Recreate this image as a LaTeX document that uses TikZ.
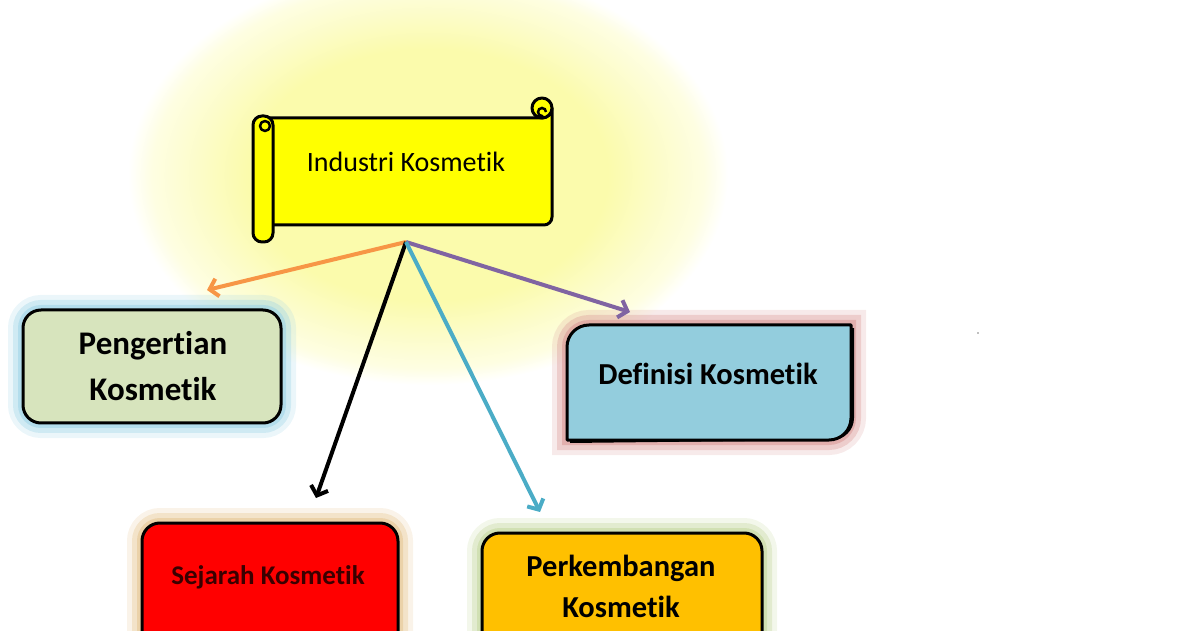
\documentclass[tikz,border=0pt]{standalone}
\usepackage{fontspec}
\setmainfont{Carlito}[Ligatures=NoCommon]
\usetikzlibrary{arrows.meta}
\definecolor{gy}{HTML}{FBFBAC}
\definecolor{gy2}{HTML}{FCFCC8}
\definecolor{gy3}{HTML}{FEFEE2}
\definecolor{scrollY}{HTML}{FFFF00}
\definecolor{pengF}{HTML}{D7E4BD}
\definecolor{pengG}{HTML}{9BD3E6}
\definecolor{defF}{HTML}{93CDDD}
\definecolor{defG}{HTML}{D99694}
\definecolor{sejF}{HTML}{FF0000}
\definecolor{sejG}{HTML}{E5C48F}
\definecolor{sejT}{HTML}{3A0000}
\definecolor{perkF}{HTML}{FFC000}
\definecolor{perkG}{HTML}{C3D69B}
\definecolor{arOr}{HTML}{F79646}
\definecolor{arPu}{HTML}{8064A2}
\definecolor{arTe}{HTML}{4BACC6}
\pgfdeclareradialshading{yglow}{\pgfpoint{0bp}{0bp}}{color(0bp)=(gy); color(15bp)=(gy); color(19bp)=(gy2); color(23bp)=(gy3); color(25bp)=(white); color(50bp)=(white)}
\begin{document}
\begin{tikzpicture}[x=1pt,y=1pt,
  halo/.style={preaction={draw=#1,line width=30pt,draw opacity=0.2},
               preaction={draw=#1,line width=20pt,draw opacity=0.35},
               preaction={draw=#1,line width=10pt,draw opacity=0.55}},
  boxst/.style={draw=black,line width=3pt,rounded corners=18pt,inner sep=0pt},
  scrollst/.style={fill=scrollY,draw=black,line width=3pt,line join=round},
  arr/.style={line width=4pt,-{Straight Barb[length=8pt,width=18pt]}},
  bigtxt/.style={font=\bfseries\fontsize{33}{46}\selectfont,align=center},
  midtxt/.style={font=\bfseries\fontsize{30.5}{41}\selectfont,align=center}]
\useasboundingbox (0,0) rectangle (1200,630);
\clip (0,0) rectangle (1200,630);
% big yellow glow
\shade[shading=yglow] (428,455) ellipse[x radius=300, y radius=210];
% Pengertian
\node[boxst,halo=pengG,fill=pengF,minimum width=258pt,minimum height=113pt] (pengbox) at (152,263.5) {};
\node[bigtxt] (peng) at (153,264) {Pengertian\\Kosmetik};
% Definisi
\path[halo=defG] (567,190) -- (567,283) arc[start angle=180,end angle=90,radius=22] -- (851,305) -- (851,212) arc[start angle=0,end angle=-90,radius=22] -- cycle;
\fill[black] (570,187) -- (570,283) -- (854,302) -- (854,212) arc[start angle=0,end angle=-90,radius=22] -- cycle;
\path[fill=defF,draw=black,line width=3pt,line join=round] (567,190) -- (567,283) arc[start angle=180,end angle=90,radius=22] -- (851,305) -- (851,212) arc[start angle=0,end angle=-90,radius=22] -- cycle;
\node[midtxt] (def) at (708,256) {Definisi Kosmetik};
% Sejarah
\node[boxst,halo=sejG,fill=sejF,minimum width=256pt,minimum height=147pt] (sejbox) at (270,33.5) {};
\node[font=\bfseries\fontsize{27}{30}\selectfont,text=sejT] (sej) at (268,53) {Sejarah Kosmetik};
% Perkembangan
\node[boxst,halo=perkG,fill=perkF,minimum width=280pt,minimum height=137pt] (perkbox) at (622,28.5) {};
\node[midtxt] (perk) at (621,44) {Perkembangan\\Kosmetik};
% scroll
\filldraw[scrollst] (268,512) -- (542,512) arc[start angle=-90,end angle=0,radius=10] -- (552,413) arc[start angle=0,end angle=-90,radius=8] -- (268,405) -- cycle;
\filldraw[scrollst] (542,522) circle[radius=10];
\draw[line width=2.5pt] (546,518) arc[start angle=0,end angle=270,radius=4] -- (542,512);
\filldraw[scrollst,rounded corners=9pt] (253,388) rectangle (273,514);
\filldraw[scrollst,line width=2.5pt] (265,504) circle[radius=5];
\node[font=\fontsize{28}{32}\selectfont] (scroll) at (406,468) {Industri Kosmetik};
% connectors
\coordinate (hub) at (406,388);
\coordinate (tpeng) at (207,340);
\coordinate (tdef) at (630,318);
\coordinate (tsej) at (316,132);
\coordinate (tperk) at (540,118);
\draw[arr,arOr] (hub) -- (tpeng);
\draw[arr,arPu] (hub) -- (tdef);
\draw[arr,black] (hub) -- (tsej);
\draw[arr,arTe] (hub) -- (tperk);
% stray dot
\fill[black!50] (978,297) circle[radius=0.8];
\end{tikzpicture}
\end{document}
